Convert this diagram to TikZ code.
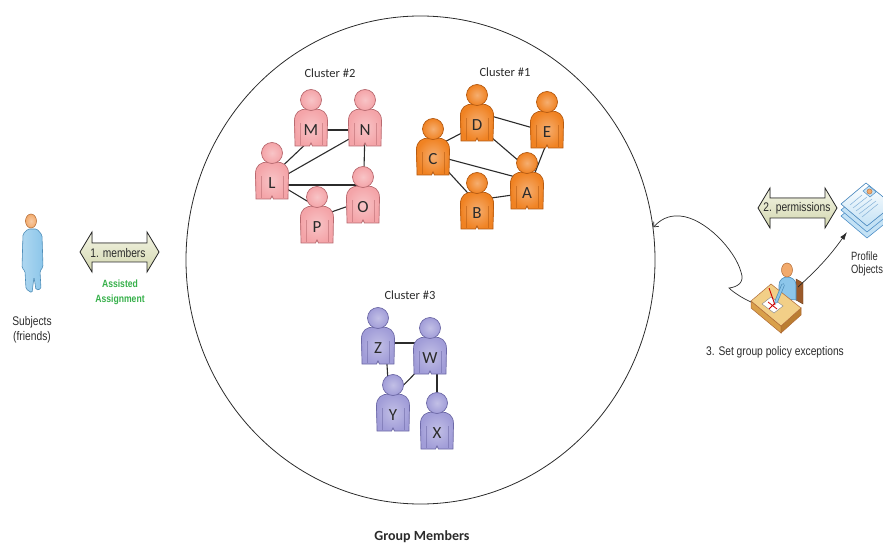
\documentclass[tikz,border=0pt]{standalone}
\usepackage{fontspec}
\setmainfont{Liberation Sans}
\newfontfamily\narrowsans{Liberation Sans}[FakeStretch=0.82]
\newfontfamily\tightsans{Liberation Sans}[FakeStretch=0.78]
\newfontfamily\calfont{Carlito}
\usetikzlibrary{shapes.geometric,arrows.meta,calc}
\pgfdeclarelayer{background}
\pgfsetlayers{background,main}

\definecolor{pinkfill}{HTML}{F4A4A8}
\definecolor{pinkline}{HTML}{B86A70}
\definecolor{orangefill}{HTML}{F08222}
\definecolor{orangeline}{HTML}{B45A12}
\definecolor{lavfill}{HTML}{A19DD8}
\definecolor{lavline}{HTML}{6D69A6}
\definecolor{inkgray}{HTML}{2B2B2B}
\definecolor{assistgreen}{HTML}{36B04A}
\definecolor{arrowtop}{HTML}{F3F4E4}
\definecolor{arrowbot}{HTML}{D3D7AF}
\definecolor{shirtblue}{HTML}{8CC6EA}
\definecolor{shirtline}{HTML}{4E8DB8}
\definecolor{skin}{HTML}{F2AA6C}
\definecolor{skinline}{HTML}{B06A36}
\definecolor{desktop}{HTML}{F2CF87}
\definecolor{deskfront}{HTML}{D9A04A}
\definecolor{deskside}{HTML}{BB7E32}
\definecolor{chair}{HTML}{9B5A2A}
\definecolor{sheetfill}{HTML}{C4E2F5}
\definecolor{sheetline}{HTML}{4F90C8}

\tikzset{
  letter/.style={font=\calfont\fontsize{17}{17}\selectfont, text=inkgray, inner sep=0pt},
  link/.style={draw=inkgray, line width=1.1pt},
  clusterlabel/.style={font=\calfont\fontsize{12.5}{14}\selectfont, text=inkgray},
  caption/.style={font=\narrowsans\fontsize{12.5}{13}\selectfont, text=inkgray, align=center, inner sep=0pt},
  assist/.style={font=\narrowsans\bfseries\fontsize{10.5}{15}\selectfont, text=assistgreen, align=center, inner sep=0pt},
  bigarrow/.style={draw=inkgray, line width=0.8pt, top color=arrowtop, bottom color=arrowbot},
  flow/.style={draw=inkgray, line width=0.7pt},
}

% one member figure: name, x, y, fill, outline, letter
\newcommand\personicon[6]{%
  \begin{scope}[shift={(#2,#3)}]
    \draw[draw=#5, line width=0.7pt, inner color=#4!65!white, outer color=#4]
      (-16,16) -- (-16.5,-9) .. controls (-16.5,-18) and (-11,-21) .. (-4,-21)
      -- (4,-21) .. controls (11,-21) and (16.5,-18) .. (16.5,-9)
      -- (16,16) -- (1.5,16) -- (0,13) -- (-1.5,16) -- cycle;
    \draw[#5, line width=0.5pt, opacity=0.55] (-11,-7) -- (-11,15) (11,-7) -- (11,15);
    \draw[draw=#5, line width=0.7pt, inner color=#4!65!white, outer color=#4] (0,-30) circle (10.5pt);
  \end{scope}
  \node[letter] (#1) at (#2,#3) {#6};
}

\begin{document}
\begin{tikzpicture}[x=1pt, y=-1pt]
  \useasboundingbox (0,0) rectangle (883,545);

  % group boundary
  \node[draw=inkgray, line width=0.8pt, ellipse, minimum width=469pt,
        minimum height=488pt, inner sep=0pt] (group) at (420.5,260) {};
  \node[font=\calfont\bfseries\fontsize{14}{16}\selectfont, text=inkgray] (grouplabel) at (422,537) {Group Members};

  % cluster 2
  \node[clusterlabel] (c2) at (330,73) {Cluster \#2};
  \personicon{M}{311}{130}{pinkfill}{pinkline}{M}
  \personicon{N}{365}{130}{pinkfill}{pinkline}{N}
  \personicon{L}{272}{183}{pinkfill}{pinkline}{L}
  \personicon{P}{317}{227}{pinkfill}{pinkline}{P}
  \personicon{O}{363}{207}{pinkfill}{pinkline}{O}

  % cluster 1
  \node[clusterlabel] (c1) at (505,72) {Cluster \#1};
  \personicon{D}{477}{125}{orangefill}{orangeline}{D}
  \personicon{E}{547}{132}{orangefill}{orangeline}{E}
  \personicon{C}{433}{159}{orangefill}{orangeline}{C}
  \personicon{B}{477}{213}{orangefill}{orangeline}{B}
  \personicon{A}{527}{193}{orangefill}{orangeline}{A}

  % cluster 3
  \node[clusterlabel] (c3) at (410,295) {Cluster \#3};
  \personicon{Z}{378}{348}{lavfill}{lavline}{Z}
  \personicon{W}{430}{358}{lavfill}{lavline}{W}
  \personicon{Y}{393}{415}{lavfill}{lavline}{Y}
  \personicon{X}{437}{433}{lavfill}{lavline}{X}

  \begin{pgfonlayer}{background}
    % friendships in cluster 2
    \draw[link] (M) -- (N);
    \draw[link] ($(M)+(0,9)$) -- ($(L)+(0,-7)$);
    \draw[link] (L) -- (N);
    \draw[link] (N) -- (O);
    \draw[link] ($(L)+(0,2)$) -- ($(O)+(0,-22)$);
    \draw[link] ($(L)+(0,-3)$) -- ($(P)+(0,-20)$);
    \draw[link] ($(P)+(0,-10)$) -- ($(O)+(0,-6)$);
    % friendships in cluster 1
    \draw[link] (D) -- ($(C)+(0,-11)$);
    \draw[link] ($(D)+(0,-13)$) -- (E);
    \draw[link] (D) -- ($(A)+(0,-25)$);
    \draw[link] ($(E)+(0,10)$) -- (A);
    \draw[link] ($(C)+(0,-4)$) -- ($(A)+(0,-13)$);
    \draw[link] ($(C)+(0,-4)$) -- ($(B)+(0,-10)$);
    \draw[link] ($(B)+(0,-13)$) -- (A);
    % friendships in cluster 3
    \draw[link] ($(Z)+(0,-5)$) -- ($(W)+(0,-15)$);
    \draw[link] ($(Z)+(8,0)$) -- ($(Y)+(-3,0)$);
    \draw[link] (W) -- ($(Y)+(0,-19)$);
    \draw[link] ($(W)+(7,0)$) -- (X);
  \end{pgfonlayer}

  % subjects (standing figure)
  \draw[draw=shirtline, line width=0.6pt, rounded corners=1.5pt,
        left color=shirtblue!70!white, right color=shirtblue]
    (23,234) -- (22,268) -- (25,271) -- (26,289) -- (32,293) -- (34,277)
    -- (36,290) -- (41,289) -- (40,271) -- (43,267) -- (42,235) -- (37,229)
    -- (28,229) -- cycle;
  \draw[draw=skinline, line width=0.5pt, inner color=skin!60!white, outer color=skin] (31,221) ellipse (5.5pt and 7pt);
  \node[caption] (subj) at (32,330) {Subjects\\[2pt](friends)};

  % 1. members
  \filldraw[bigarrow] (80,252) -- (92,232) -- (92,243) -- (147,243) -- (147,232)
    -- (159,252) -- (147,272) -- (147,262) -- (92,262) -- (92,272) -- cycle;
  \node[caption] (members) at (118,253) {1. members};
  \node[assist] (assisted) at (120,292) {Assisted\\Assignment};

  % 2. permissions
  \filldraw[bigarrow] (758,208) -- (770,188) -- (770,198) -- (825,198) -- (825,188)
    -- (837,208) -- (825,228) -- (825,218) -- (770,218) -- (770,228) -- cycle;
  \node[caption] (perm) at (797,208) {2. permissions};

  % profile objects (stacked sheets)
  \foreach \dy in {12,6} {
    \filldraw[fill=sheetfill, draw=sheetline, line width=0.6pt]
      (841,204+\dy) -- (866,183+\dy) -- (893,205+\dy) -- (867,226+\dy) -- cycle;
  }
  \filldraw[draw=sheetline, line width=0.6pt, top color=white, bottom color=sheetfill]
    (841,204) -- (866,183) -- (893,205) -- (867,226) -- cycle;
  \draw[sheetline!70, line width=0.5pt] (850,205) -- (862,195) (853,208) -- (867,197)
    (856,211) -- (872,199) (859,214) -- (876,201) (862,217) -- (878,204);
  \filldraw[fill=sheetfill, draw=sheetline, line width=0.5pt]
    (863,191) -- (869,186) -- (876,192) -- (870,197) -- cycle;
  \filldraw[fill=skin, draw=skinline, line width=0.4pt] (869.5,191.5) circle (2.6pt);
  \coordinate (stack) at (847,232);
  \node[caption, font=\tightsans\fontsize{12}{13}\selectfont, align=left, anchor=west]
    (profile) at (851,264) {Profile\\Objects};

  % policy editor at the desk
  \filldraw[fill=chair, draw=chair!70!black, line width=0.4pt]
    (796,279) -- (803,283) -- (803,304) -- (796,300) -- cycle;
  \filldraw[fill=shirtblue, draw=shirtline, line width=0.6pt]
    (779,298) -- (779,285) .. controls (779,280) and (783,277) .. (787,277)
    .. controls (792,277) and (796,280) .. (796,285) -- (796,300) -- cycle;
  \filldraw[fill=skin, draw=skinline, line width=0.5pt] (787,270) ellipse (5.5pt and 7pt);
  \filldraw[fill=deskfront, draw=skinline, line width=0.5pt]
    (751,301) -- (781,326) -- (781,333) -- (751,308) -- cycle;
  \filldraw[fill=deskside, draw=skinline, line width=0.5pt]
    (781,326) -- (801,308) -- (801,315) -- (781,333) -- cycle;
  \filldraw[fill=desktop, draw=skinline, line width=0.5pt]
    (751,301) -- (771,284) -- (801,308) -- (781,326) -- cycle;
  \filldraw[fill=white, draw=gray, line width=0.4pt]
    (762,304) -- (771,297) -- (783,306) -- (774,313) -- cycle;
  \draw[red!80!black, line width=0.8pt] (768,302) -- (777,309) (776,302) -- (769,309);
  \draw[red!80!black, line width=0.9pt] (775,305) -- (769,288);
  \draw[shirtline, line width=3.4pt, line cap=round] (783,285) -- (776,302);
  \draw[shirtblue, line width=2pt, line cap=round] (783,285) -- (776,302);
  \coordinate (deskL) at (751,302);
  \coordinate (clerk) at (798,287);
  \node[caption] (policy) at (775,352) {3. Set group policy exceptions};

  % connectors
  \draw[flow, -{Straight Barb[length=4pt,width=7pt]}]
    (deskL) .. controls (742,298) and (733,292) .. (729,288)
    .. controls (737,287) and (745,283) .. (741,272)
    .. controls (735,250) and (705,218) .. (680,216)
    .. controls (668,215) and (660,220) .. (group.8);
  \draw[flow, -{Latex[length=8pt,width=5pt]}] (clerk) to[bend right=6] (stack);
\end{tikzpicture}
\end{document}
